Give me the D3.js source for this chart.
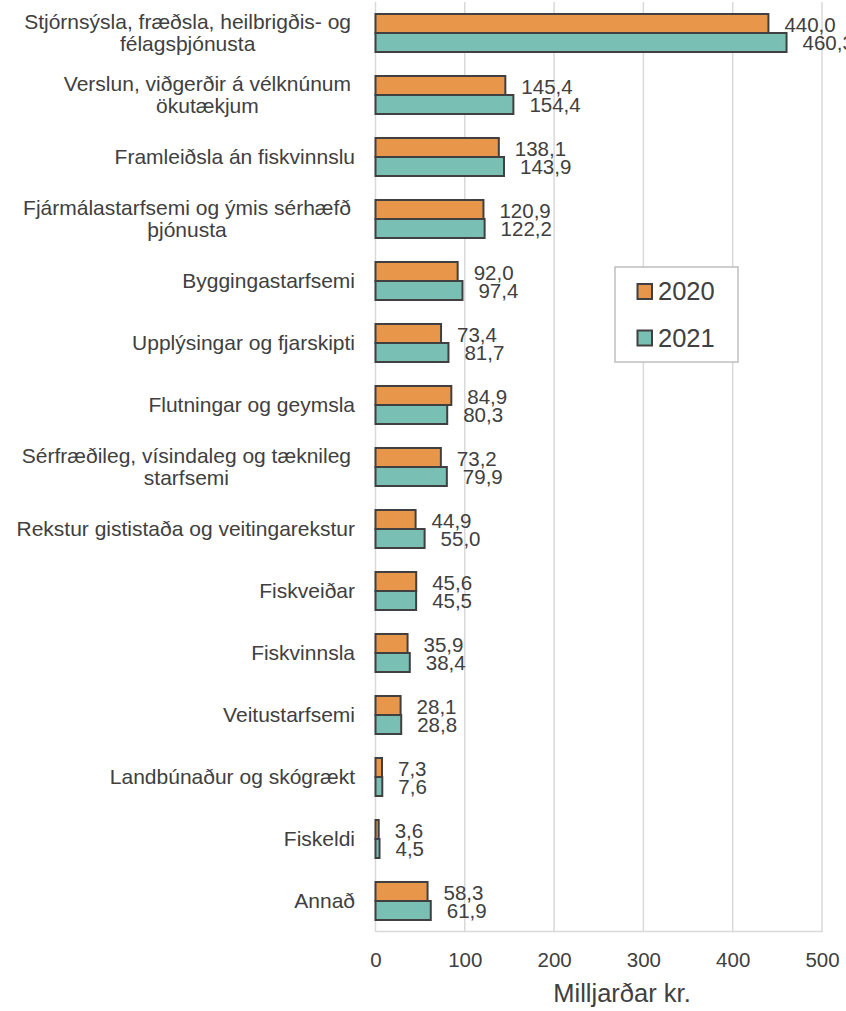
<!DOCTYPE html>
<html><head><meta charset="utf-8">
<script src="https://cdn.jsdelivr.net/npm/d3@7"></script>
<style>
html,body{margin:0;padding:0;background:#fff;}
svg{display:block;font-family:"Liberation Sans",Arial,sans-serif;}
</style></head>
<body><svg id="c" width="846" height="1011"></svg>
<script>
const categories = [
  "Stjórnsýsla, fræðsla, heilbrigðis- og\nfélagsþjónusta",
  "Verslun, viðgerðir á vélknúnum\nökutækjum",
  "Framleiðsla án fiskvinnslu",
  "Fjármálastarfsemi og ýmis sérhæfð\nþjónusta",
  "Byggingastarfsemi",
  "Upplýsingar og fjarskipti",
  "Flutningar og geymsla",
  "Sérfræðileg, vísindaleg og tæknileg\nstarfsemi",
  "Rekstur gististaða og veitingarekstur",
  "Fiskveiðar",
  "Fiskvinnsla",
  "Veitustarfsemi",
  "Landbúnaður og skógrækt",
  "Fiskeldi",
  "Annað"
];
const seriesNames = ["2020", "2021"];
const values2020 = [440.0,145.4,138.1,120.9,92.0,73.4,84.9,73.2,44.9,45.6,35.9,28.1,7.3,3.6,58.3];
const values2021 = [460.3,154.4,143.9,122.2,97.4,81.7,80.3,79.9,55.0,45.5,38.4,28.8,7.6,4.5,61.9];
const xTicks = [0,100,200,300,400,500];
const axisTitle = "Milljarðar kr.";

const colors = {"2020":"#E8964A","2021":"#7ABFB4"};
const textColor = "#404040";
const fmt = v => v.toFixed(1).replace(".", ",");

const svg = d3.select("#c");
const x = d3.scaleLinear().domain([0,500]).range([375.5, 822]);
const y = d3.scaleBand().domain(categories).range([2, 932]).paddingInner(0.387).paddingOuter(0.1935);
const ys = d3.scaleBand().domain(seriesNames).range([0, y.bandwidth()]);

// gridlines
svg.append("g").selectAll("line").data(xTicks).join("line")
  .attr("x1", d => x(d)).attr("x2", d => x(d))
  .attr("y1", 2).attr("y2", 932)
  .attr("stroke", "#D9D9D9").attr("stroke-width", 1.5);
svg.append("line").attr("x1", x(0)).attr("x2", x(500)).attr("y1", 931.5).attr("y2", 931.5)
  .attr("stroke", "#D9D9D9").attr("stroke-width", 1.5);

// x axis tick labels
const xAxis = d3.axisBottom(x).tickValues(xTicks).tickSize(0).tickPadding(0).tickFormat(d3.format("d"));
const gx = svg.append("g").attr("transform", "translate(0,960)").call(xAxis);
gx.select(".domain").remove();
gx.selectAll("text").attr("font-size", 20.5).attr("fill", textColor)
  .attr("font-family", "Liberation Sans, Arial, sans-serif").attr("dy", "0.35em").attr("y", 0);

svg.append("text").attr("x", 622).attr("y", 1002).attr("text-anchor", "middle")
  .attr("font-size", 25.5).attr("fill", textColor).text(axisTitle);

// bars
const data = categories.map((c, i) => ({c, vals: [{s:"2020", v:values2020[i]}, {s:"2021", v:values2021[i]}]}));
const groups = svg.append("g").selectAll("g").data(data).join("g")
  .attr("transform", d => `translate(0,${y(d.c)})`);
groups.selectAll("rect").data(d => d.vals).join("rect")
  .attr("x", x(0)).attr("y", d => ys(d.s))
  .attr("width", d => x(d.v) - x(0)).attr("height", ys.bandwidth())
  .attr("fill", d => colors[d.s]).attr("stroke", "#404040").attr("stroke-width", 2);
groups.selectAll("text.val").data(d => d.vals).join("text").attr("class", "val")
  .attr("x", d => x(d.v) + 16)
  .attr("y", d => ys(d.s) + ys.bandwidth()/2 + (d.s === "2020" ? 1.5 : 0))
  .attr("dy", "0.35em").attr("font-size", 20.5).attr("fill", textColor)
  .text(d => fmt(d.v));

// category labels
data.forEach(d => {
  const lines = d.c.split("\n");
  const cy = y(d.c) + y.bandwidth()/2;
  const g = svg.append("g");
  const texts = lines.map((ln, j) => g.append("text")
    .attr("y", cy + (j - (lines.length - 1)/2) * 22).attr("dy", "0.35em")
    .attr("font-size", 21).attr("fill", textColor).text(ln));
  if (lines.length === 1) {
    texts[0].attr("x", 355).attr("text-anchor", "end");
  } else {
    const w = d3.max(texts, t => t.node().getComputedTextLength());
    texts.forEach(t => t.attr("x", 351 - w/2).attr("text-anchor", "middle"));
  }
});

// legend
const lg = svg.append("g");
lg.append("rect").attr("x", 615).attr("y", 267).attr("width", 123).attr("height", 95)
  .attr("fill", "#fff").attr("stroke", "#BFBFBF").attr("stroke-width", 1.5);
seriesNames.forEach((s, i) => {
  const cy = 291.5 + i * 46.5;
  lg.append("rect").attr("x", 637.5).attr("y", cy - 7.5).attr("width", 14.5).attr("height", 15)
    .attr("fill", colors[s]).attr("stroke", "#404040").attr("stroke-width", 2);
  lg.append("text").attr("x", 658).attr("y", cy).attr("dy", "0.35em")
    .attr("font-size", 25.5).attr("fill", textColor).text(s);
});
</script></body></html>
